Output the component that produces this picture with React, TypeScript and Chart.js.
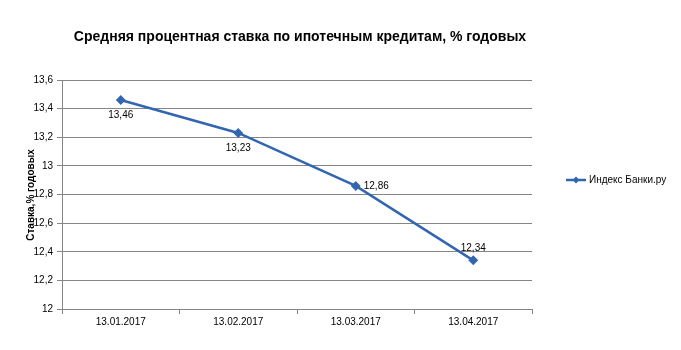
import React, { useEffect, useRef } from "react";
import { Chart, registerables } from "chart.js";

Chart.register(...registerables);

const categories = ["13.01.2017", "13.02.2017", "13.03.2017", "13.04.2017"];
const seriesValues = [13.46, 13.23, 12.86, 12.34];
const seriesName = "Индекс Банки.ру";
const chartTitle = "Средняя процентная ставка по ипотечным кредитам, % годовых";
const yAxisTitle = "Ставка,% годовых";
const labelPositions = ["below", "below", "right", "above"];

const LINE = "#3366b0";
const FONT = "'Liberation Sans', Arial, sans-serif";

const fmt = (v: number) => String(Number(v.toFixed(2))).replace(".", ",");

const decorations = {
  id: "decorations",
  afterDatasetsDraw(chart: any) {
    const ctx = chart.ctx;
    const meta = chart.getDatasetMeta(0);
    ctx.save();
    // data labels
    ctx.fillStyle = "#000";
    ctx.font = `10px ${FONT}`;
    meta.data.forEach((pt: any, i: number) => {
      const txt = fmt(seriesValues[i]);
      const pos = labelPositions[i];
      if (pos === "below") {
        ctx.textAlign = "center";
        ctx.textBaseline = "top";
        ctx.fillText(txt, pt.x, pt.y + 10);
      } else if (pos === "above") {
        ctx.textAlign = "center";
        ctx.textBaseline = "bottom";
        ctx.fillText(txt, pt.x, pt.y - 7);
      } else {
        ctx.textAlign = "left";
        ctx.textBaseline = "middle";
        ctx.fillText(txt, pt.x + 8, pt.y);
      }
    });
    // title
    ctx.font = `bold 14px ${FONT}`;
    ctx.textAlign = "center";
    ctx.textBaseline = "middle";
    ctx.fillText(chartTitle, 300, 37);
    // y axis title
    ctx.save();
    ctx.translate(31, 195);
    ctx.rotate(-Math.PI / 2);
    ctx.font = `bold 10px ${FONT}`;
    ctx.fillText(yAxisTitle, 0, 0);
    ctx.restore();
    // legend
    const ly = 180;
    ctx.strokeStyle = LINE;
    ctx.lineWidth = 2.5;
    ctx.beginPath();
    ctx.moveTo(566, ly);
    ctx.lineTo(586, ly);
    ctx.stroke();
    ctx.fillStyle = LINE;
    ctx.beginPath();
    ctx.moveTo(576, ly - 3.5);
    ctx.lineTo(579.5, ly);
    ctx.lineTo(576, ly + 3.5);
    ctx.lineTo(572.5, ly);
    ctx.closePath();
    ctx.fill();
    ctx.fillStyle = "#000";
    ctx.font = `10px ${FONT}`;
    ctx.textAlign = "left";
    ctx.textBaseline = "middle";
    ctx.fillText(seriesName, 589, ly);
    ctx.restore();
  },
};

export default function App() {
  const ref = useRef<HTMLCanvasElement>(null);
  useEffect(() => {
    if (!ref.current) return;
    const chart = new Chart(ref.current, {
      type: "line",
      data: {
        labels: categories,
        datasets: [
          {
            label: seriesName,
            data: seriesValues,
            borderColor: LINE,
            backgroundColor: LINE,
            borderWidth: 2.5,
            pointStyle: "rectRot",
            pointRadius: 3.2,
            pointBackgroundColor: LINE,
            pointBorderColor: LINE,
            tension: 0,
          },
        ],
      },
      options: {
        responsive: false,
        animation: false,
        devicePixelRatio: 1,
        layout: { padding: { left: 0, right: 149, top: 80, bottom: 0 } },
        plugins: {
          legend: { display: false },
          title: { display: false },
          tooltip: { enabled: false },
        },
        scales: {
          x: {
            type: "category",
            offset: true,
            grid: {
              display: true,
              drawOnChartArea: false,
              drawTicks: true,
              tickLength: 5,
              color: "#868686",
              offset: true,
            },
            border: { color: "#868686", width: 1 },
            ticks: { color: "#000", font: { family: FONT, size: 10 }, padding: 2, maxRotation: 0 },
            afterFit: (s: any) => {
              s.height = 41;
            },
          },
          y: {
            min: 12,
            max: 13.6,
            grid: { color: "#868686", tickLength: 5, drawTicks: true },
            border: { color: "#868686", width: 1 },
            ticks: {
              stepSize: 0.2,
              color: "#000",
              font: { family: FONT, size: 10 },
              padding: 4,
              callback: (v: any) => fmt(Number(v)),
            },
            afterFit: (s: any) => {
              s.width = 62;
            },
          },
        },
      },
      plugins: [decorations],
    });
    return () => chart.destroy();
  }, []);
  return (
    <div style={{ position: "fixed", left: 0, top: 0, width: 681, height: 350, background: "#fff" }}>
      <canvas ref={ref} width={681} height={350} style={{ width: 681, height: 350 }} />
    </div>
  );
}
